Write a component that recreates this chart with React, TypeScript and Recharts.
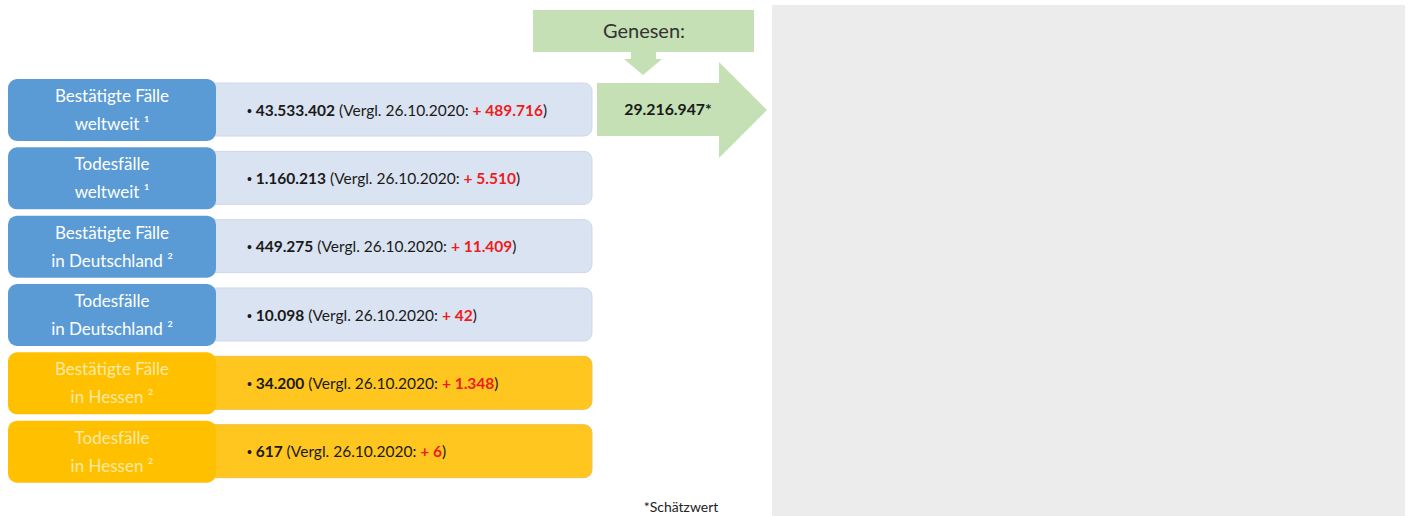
import { BarChart, Bar, XAxis, YAxis, Customized } from "recharts";

// Rows of the overview, top to bottom
const titleTop = [
  "Bestätigte Fälle",
  "Todesfälle",
  "Bestätigte Fälle",
  "Todesfälle",
  "Bestätigte Fälle",
  "Todesfälle",
];
const titleBottom = [
  "weltweit ¹",
  "weltweit ¹",
  "in Deutschland ²",
  "in Deutschland ²",
  "in Hessen ²",
  "in Hessen ²",
];
const totals = ["43.533.402", "1.160.213", "449.275", "10.098", "34.200", "617"];
const changes = ["489.716", "5.510", "11.409", "42", "1.348", "6"];
const regions = ["welt", "welt", "de", "de", "hessen", "hessen"];

const compareDate = "26.10.2020";
const recoveredLabel = "Genesen:";
const recovered = "29.216.947*";
const footnote = "*Schätzwert";

const COLORS: Record<string, { head: string; body: string; text: string }> = {
  welt: { head: "#5b9bd5", body: "#dae3f1", text: "#ffffff" },
  de: { head: "#5b9bd5", body: "#dae3f1", text: "#ffffff" },
  hessen: { head: "#ffc000", body: "#ffc61f", text: "#fdeaa8" },
};

const FONT = "Lato, 'Open Sans', sans-serif";
const GREEN = "#c5e0b4";

const data = titleTop.map((t, i) => ({
  key: `row${i}`,
  top: t,
  bottom: titleBottom[i],
  total: totals[i],
  change: changes[i],
  region: regions[i],
}));

function RowShape(props: any) {
  const { x, y, width, height, payload } = props;
  const c = COLORS[payload.region];
  const headW = width * (208 / 584);
  const cx = x + headW / 2;
  const cy = y + height / 2;
  return (
    <g>
      <rect
        x={x + headW - 20}
        y={y + 4}
        width={width - headW + 20}
        height={height - 9}
        rx={8}
        fill={c.body}
        stroke={payload.region === "hessen" ? "#f2c04a" : "#cfd8e8"}
        strokeWidth={1}
      />
      <rect x={x} y={y} width={headW} height={height} rx={9} fill={c.head} />
      <text x={cx} y={cy - 8} textAnchor="middle" fill={c.text} fontSize={17} fontFamily={FONT}>
        {payload.top}
      </text>
      <text x={cx} y={cy + 20} textAnchor="middle" fill={c.text} fontSize={17} fontFamily={FONT}>
        {payload.bottom}
      </text>
      <text x={x + headW + 31} y={cy + 5.5} fill="#1a1a1a" fontSize={15.5} fontFamily={FONT}>
        <tspan fontFamily="'Liberation Sans', sans-serif" fontSize={14}>•</tspan>
        <tspan fontWeight="bold">{" " + payload.total}</tspan>
        <tspan>{` (Vergl. ${compareDate}: `}</tspan>
        <tspan fill="#ee1c1c" fontWeight="bold">{"+ " + payload.change}</tspan>
        <tspan>)</tspan>
      </text>
    </g>
  );
}

function Extras() {
  return (
    <g>
      <rect x={772} y={5} width={633} height={511} fill="#ececec" />
      {/* Genesen box */}
      <rect x={533} y={10} width={221} height={42} fill={GREEN} />
      <text x={644} y={38} textAnchor="middle" fill="#333" fontSize={20} fontFamily={FONT}>
        {recoveredLabel}
      </text>
      <polygon points="631,52 656,52 656,59 662,59 643,75 624,59 631,59" fill={GREEN} />
      {/* big arrow */}
      <polygon points="597,83 719,83 719,62 767,110 719,158 719,136 597,136" fill={GREEN} />
      <text x={668} y={115} textAnchor="middle" fill="#1a1a1a" fontSize={15.8} fontWeight="bold" fontFamily={FONT}>
        {recovered}
      </text>
      <text x={681} y={512} textAnchor="middle" fill="#222" fontSize={14} fontFamily={FONT}>
        {footnote}
      </text>
    </g>
  );
}

export default function App() {
  return (
    <div style={{ position: "fixed", left: 0, top: 0, background: "#fff" }}>
      <BarChart
        width={1409}
        height={516}
        data={data}
        layout="vertical"
        margin={{ top: 76, right: 817, bottom: 30, left: 8 }}
      >
        <XAxis type="number" domain={[0, 1]} hide />
        <YAxis type="category" dataKey="key" hide />
        <Customized component={Extras} />
        <Bar dataKey={() => 1} barSize={62} shape={RowShape} isAnimationActive={false} />
      </BarChart>
    </div>
  );
}
